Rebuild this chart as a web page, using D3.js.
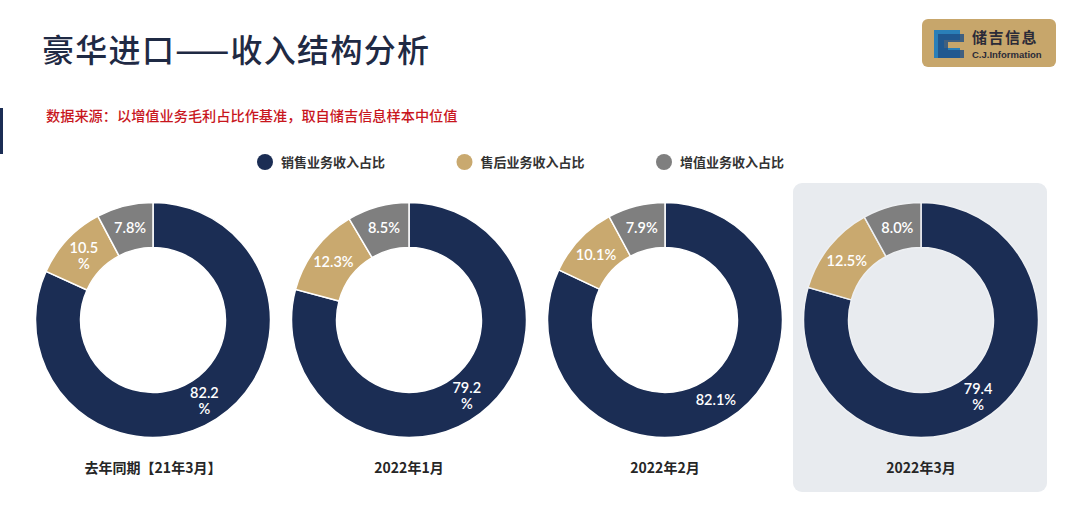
<!DOCTYPE html>
<html><head><meta charset="utf-8">
<script src="https://cdn.jsdelivr.net/npm/d3@7"></script>
<style>
html,body{margin:0;padding:0;background:#fff;}
svg{display:block;font-family:"Noto Sans CJK SC","Noto Sans",sans-serif;}
</style></head>
<body>
<svg id="chart" width="1080" height="506"></svg>
<script>
const title = "豪华进口——收入结构分析";
const subtitle = "数据来源：以增值业务毛利占比作基准，取自储吉信息样本中位值";
const seriesNames = ["销售业务收入占比", "售后业务收入占比", "增值业务收入占比"];
const periods = ["去年同期【21年3月】", "2022年1月", "2022年2月", "2022年3月"];
const salesShare = [82.2, 79.2, 82.1, 79.4];
const afterSalesShare = [10.5, 12.3, 10.1, 12.5];
const valueAddedShare = [7.8, 8.5, 7.9, 8.0];
const wrapLabel = [[true, true, false], [true, false, false], [false, false, false], [true, false, false]];
const colors = ["#1b2d54", "#c9a96f", "#7f7f7f"];

const svg = d3.select("#chart");

// left accent
svg.append("rect").attr("x", 0).attr("y", 108).attr("width", 3).attr("height", 46).attr("fill", "#1b2d54");

// title
svg.append("text").attr("x", 42).attr("y", 62).attr("font-size", 32).attr("font-weight", 500).attr("fill", "#1f2a44")
  .attr("letter-spacing", 1.3).text(title);
svg.append("text").attr("x", 46).attr("y", 121).attr("font-size", 14.2).attr("font-weight", 500).attr("fill", "#c8161d")
  .text(subtitle);

// logo
const logo = svg.append("g");
logo.append("rect").attr("x", 922).attr("y", 19).attr("width", 134).attr("height", 48).attr("rx", 6).attr("fill", "#c7a66b");
logo.append("path").attr("d", "M934,30 h26 v10 h-16 v8 h16 v10 h-26 z").attr("fill", "#2a7fb8");
logo.append("path").attr("d", "M938,34 h26 v8 h-16 v8 h16 v8 h-26 z").attr("fill", "#1e4f86").attr("opacity", 0.8);
logo.append("text").attr("x", 972).attr("y", 43).attr("font-size", 15).attr("font-weight", 700).attr("fill", "#2b2b38").attr("letter-spacing", 1.5).text("储吉信息");
logo.append("text").attr("x", 972).attr("y", 58).attr("font-size", 9.5).attr("font-weight", 700).attr("fill", "#2b2b38").attr("font-family", "Liberation Sans, Arial, sans-serif").text("C.J.Information");

// legend
const legendX = d3.scalePoint().domain(seriesNames).range([265, 664]);
const lg = svg.append("g").selectAll("g").data(seriesNames).join("g")
  .attr("transform", d => `translate(${legendX(d)},162)`);
lg.append("circle").attr("r", 8).attr("fill", (d, i) => colors[i]);
lg.append("text").attr("x", 16).attr("y", 5).attr("font-size", 13).attr("font-weight", 700).attr("fill", "#333").text(d => d);

// highlight panel
const xPos = d3.scalePoint().domain(periods).range([153, 921]);
svg.append("rect").attr("x", xPos(periods[3]) - 128).attr("y", 183).attr("width", 254).attr("height", 309)
  .attr("rx", 9).attr("fill", "#e8ebef");

const pie = d3.pie().sort(null).value(d => d);
const outerR = 117.5, innerR = 72.5;
const arc = d3.arc().innerRadius(innerR).outerRadius(outerR);
const cy = 320;

periods.forEach((p, k) => {
  const vals = [salesShare[k], afterSalesShare[k], valueAddedShare[k]];
  const g = svg.append("g").attr("transform", `translate(${xPos(p)},${cy})`);
  const arcs = pie(vals);
  g.selectAll("path").data(arcs).join("path")
    .attr("d", arc).attr("fill", (d, i) => colors[i])
    .attr("stroke", k === 3 ? "#eef0f3" : "#fff").attr("stroke-width", 1.5);
  const t = g.selectAll("text.lab").data(arcs).join("text").attr("class", "lab")
    .attr("transform", d => `translate(${arc.centroid(d)})`)
    .attr("text-anchor", "middle").attr("fill", "#fff")
    .attr("font-size", 14.5).attr("font-weight", 600)
    .attr("font-family", "Lato, 'Open Sans', sans-serif");
  t.each(function(d, i) {
    const s = d3.format(".1f")(d.data);
    const el = d3.select(this);
    if (wrapLabel[k][i]) {
      el.append("tspan").attr("x", 0).attr("y", -2).text(s);
      el.append("tspan").attr("x", 0).attr("y", 14).text("%");
    } else {
      el.append("tspan").attr("x", 0).attr("y", 5).text(s + "%");
    }
  });
  svg.append("text").attr("x", xPos(p)).attr("y", 473).attr("text-anchor", "middle")
    .attr("font-size", 14).attr("font-weight", 700).attr("fill", "#262626").text(p);
});
</script>
</body></html>
